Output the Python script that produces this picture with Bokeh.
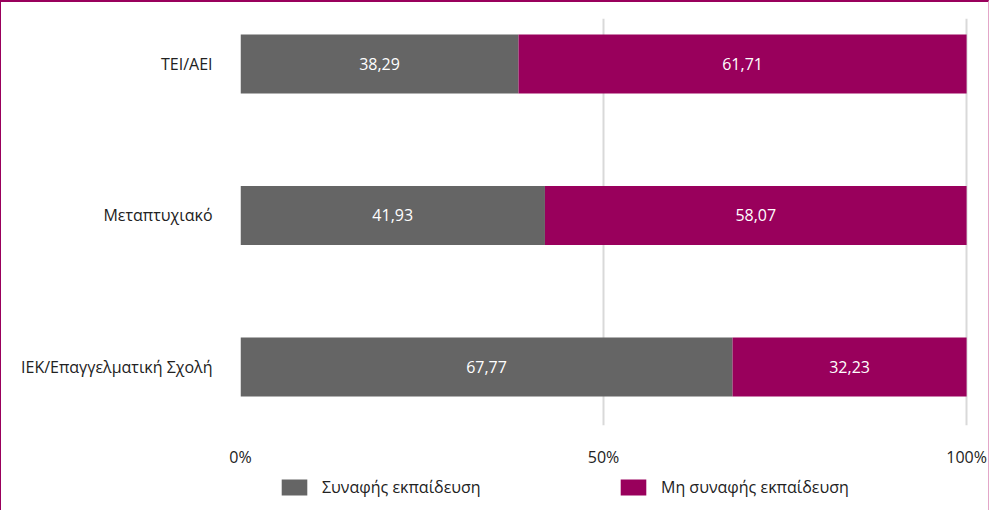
from bokeh.plotting import figure
from bokeh.layouts import column
from bokeh.models import ColumnDataSource, Range1d, FixedTicker, Legend, LegendItem, LabelSet
from bokeh.embed import file_html
from bokeh.resources import INLINE
from bokeh.core.properties import value

categories = ["IEK/Επαγγελματική Σχολή", "Μεταπτυχιακό", "TEI/AEI"]
related = [67.77, 41.93, 38.29]
unrelated = [32.23, 58.07, 61.71]
series_names = ["Συναφής εκπαίδευση", "Μη συναφής εκπαίδευση"]
x_ticks = [0, 50, 100]
x_tick_labels = {0: "0%", 50: "50%", 100: "100%"}

GREY = "#656565"
MAG = "#99005C"
FONT = "Open Sans"
FS = "16px"

ypos = list(range(len(categories)))
src = ColumnDataSource(dict(
    y=ypos,
    related=related,
    unrelated=unrelated,
    rel_mid=[r / 2 for r in related],
    unrel_mid=[r + u / 2 for r, u in zip(related, unrelated)],
    rel_lab=[f"{v:.2f}".replace(".", ",") for v in related],
    unrel_lab=[f"{v:.2f}".replace(".", ",") for v in unrelated],
))

p = figure(width=987, height=468, output_backend="svg", toolbar_location=None,
           x_range=Range1d(0, 100.4), y_range=Range1d(-0.386, 2.30),
           min_border_left=239, min_border_right=19, min_border_top=16, min_border_bottom=41)
p.outline_line_color = None

r = p.hbar_stack(["related", "unrelated"], y="y", height=0.39, source=src,
                 color=[GREY, MAG], line_color=None)

for xcol, tcol in (("rel_mid", "rel_lab"), ("unrel_mid", "unrel_lab")):
    p.add_layout(LabelSet(x=xcol, y="y", text=tcol, source=src, text_color="white",
                          text_align="center", text_baseline="middle",
                          text_font=value(FONT), text_font_size=FS))

p.xaxis.ticker = FixedTicker(ticks=x_ticks)
p.xaxis.major_label_overrides = x_tick_labels
p.yaxis.ticker = FixedTicker(ticks=ypos)
p.yaxis.major_label_overrides = {i: c for i, c in enumerate(categories)}
for ax in (p.xaxis, p.yaxis):
    ax.axis_line_color = None
    ax.major_tick_line_color = None
    ax.minor_tick_line_color = None
    ax.major_label_text_font = FONT
    ax.major_label_text_font_size = FS
    ax.major_label_text_color = "#222222"
p.yaxis.major_label_standoff = 22
p.xaxis.major_label_standoff = 14
p.xgrid.ticker = FixedTicker(ticks=x_ticks)
p.xgrid.grid_line_color = "#D9D9D9"
p.xgrid.grid_line_width = 2
p.ygrid.grid_line_color = None

# legend strip (its frame is aligned with the main frame by the column layout)
lf = figure(width=987, height=40, output_backend="svg", toolbar_location=None,
            x_range=Range1d(0, 1), y_range=Range1d(10, 11),
            min_border_left=0, min_border_right=0, min_border_top=0, min_border_bottom=0)
lf.axis.visible = False
lf.grid.grid_line_color = None
lf.outline_line_color = None
# same data, drawn outside this strip's visible range: only used for legend swatches
d = lf.hbar_stack(["related", "unrelated"], y="y", height=0.39, source=src,
                  color=[GREY, MAG], line_color=None)

for rend, name, loc in ((d[0], series_names[0], (38, 12)), (d[1], series_names[1], (377, 12))):
    lf.add_layout(Legend(items=[LegendItem(label=name, renderers=[rend])],
                         location=loc, label_text_font=FONT, label_text_font_size=FS,
                         label_text_color="#222222", glyph_width=32, glyph_height=20,
                         label_height=20, border_line_color=None, background_fill_alpha=0,
                         padding=0, margin=0, label_standoff=12), "center")

layout = column(p, lf, spacing=0,
                styles={"border-top": f"2px solid {MAG}", "border-left": f"1px solid {MAG}",
                        "border-right": "1px solid #E3A6C8"})

open("out.html", "w").write(file_html(layout, INLINE))
